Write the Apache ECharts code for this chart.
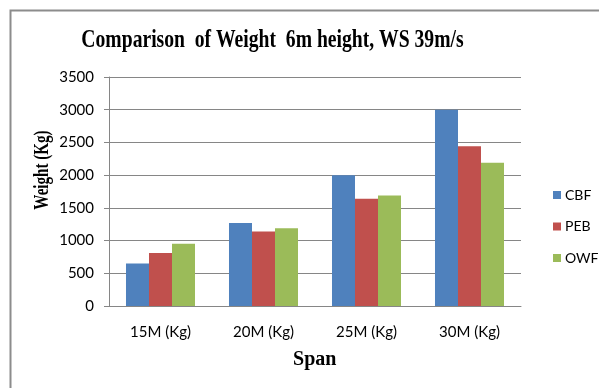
<!DOCTYPE html>
<html>
<head>
<meta charset="utf-8">
<script src="https://cdn.jsdelivr.net/npm/echarts@6/dist/echarts.min.js"></script>
<style>html,body{margin:0;padding:0;background:#fff;}#c{width:599px;height:388px;}</style>
</head>
<body>
<div id="c"></div>
<script>
const categories = ['15M (Kg)', '20M (Kg)', '25M (Kg)', '30M (Kg)'];
const cbf = [650, 1270, 2000, 3000];
const peb = [810, 1140, 1640, 2440];
const owf = [950, 1190, 1690, 2190];
const yTicks = [0, 500, 1000, 1500, 2000, 2500, 3000, 3500];
const titleText = 'Comparison  of Weight  6m height, WS 39m/s';
const yName = 'Weight (Kg)';
const xName = 'Span';

const chart = echarts.init(document.getElementById('c'), null, {renderer: 'canvas'});
const lbl = {fontFamily: 'Lato', fontSize: 15, color: '#000'};
const serif = {fontFamily: 'Liberation Serif', fontWeight: 'bold', fill: '#000', align: 'center', verticalAlign: 'middle'};
chart.setOption({
  animation: false,
  backgroundColor: '#fff',
  graphic: [
    {type: 'polyline', shape: {points: [[10.5, 388], [10.5, 10.5], [599, 10.5]]}, style: {stroke: '#8c8c8c', lineWidth: 2, fill: null}},
    {type: 'text', x: 272.5, y: 40.5, scaleX: 0.755, style: Object.assign({text: titleText, fontSize: 26}, serif)},
    {type: 'text', x: 43, y: 170, rotation: Math.PI / 2, scaleX: 0.755, style: Object.assign({text: yName, fontSize: 20}, serif)},
    {type: 'text', x: 314.7, y: 360, style: Object.assign({text: xName, fontSize: 20}, serif)}
  ],
  legend: {
    orient: 'vertical', left: 548, top: 183, itemGap: 17.5,
    itemWidth: 8, itemHeight: 8, icon: 'rect',
    textStyle: {fontFamily: 'Lato', fontSize: 14, color: '#000', padding: [0, 0, 0, -1]},
    data: ['CBF', 'PEB', 'OWF']
  },
  grid: {left: 109, right: 78, top: 77, bottom: 82, containLabel: false},
  xAxis: {
    type: 'category', data: categories,
    axisLine: {lineStyle: {color: '#868686', width: 1}},
    axisTick: {show: false},
    axisLabel: Object.assign({margin: 19}, lbl)
  },
  yAxis: {
    type: 'value', min: yTicks[0], max: yTicks[yTicks.length - 1], interval: 500,
    axisLine: {show: true, lineStyle: {color: '#868686'}},
    axisTick: {show: true, length: 5, lineStyle: {color: '#868686'}},
    splitLine: {lineStyle: {color: '#868686', width: 1}},
    axisLabel: Object.assign({margin: 15, formatter: v => String(v)}, lbl)
  },
  series: [
    {name: 'CBF', type: 'bar', data: cbf, itemStyle: {color: '#4f81bd'}, barGap: '0%', barCategoryGap: '33%'},
    {name: 'PEB', type: 'bar', data: peb, itemStyle: {color: '#c0504d'}},
    {name: 'OWF', type: 'bar', data: owf, itemStyle: {color: '#9bbb59'}}
  ]
});
</script>
</body>
</html>
